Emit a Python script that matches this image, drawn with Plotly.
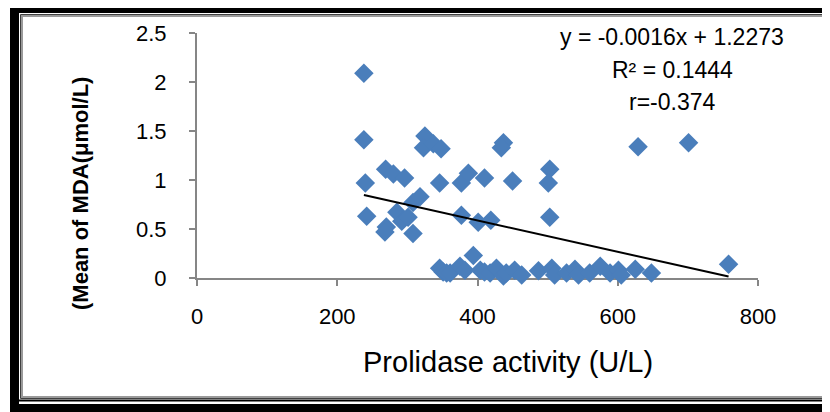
import plotly.graph_objects as go

# Data
prolidase = [238, 238, 240, 242, 269, 280, 296, 325, 323, 337, 348, 346, 377, 387, 410,
             437, 434, 450, 503, 501, 629, 701,
             270, 268, 285, 292, 301, 308, 318, 308, 377, 401, 419, 503,
             346, 351, 356, 361, 375, 382, 394, 404, 410, 418, 427, 437, 441, 453, 463,
             487, 506, 510, 527, 539, 544, 560, 575, 589, 601, 605, 625, 648, 758]
mda = [2.09, 1.41, 0.97, 0.63, 1.11, 1.06, 1.02, 1.45, 1.33, 1.37, 1.32, 0.97, 0.97, 1.07, 1.02,
       1.38, 1.33, 0.99, 1.11, 0.97, 1.34, 1.38,
       0.52, 0.47, 0.67, 0.58, 0.62, 0.77, 0.83, 0.455, 0.64, 0.57, 0.59, 0.62,
       0.10, 0.06, 0.05, 0.05, 0.12, 0.08, 0.23, 0.08, 0.06, 0.05, 0.10, 0.02, 0.05, 0.08, 0.03,
       0.075, 0.10, 0.03, 0.05, 0.09, 0.03, 0.05, 0.12, 0.05, 0.08, 0.03, 0.09, 0.05, 0.14]

slope = -0.0016
intercept = 1.2273
equation_lines = ["y = -0.0016x + 1.2273", "R² = 0.1444", "r=-0.374"]
x_ticks = [0, 200, 400, 600, 800]
y_ticks = [0, 0.5, 1, 1.5, 2, 2.5]
y_tick_text = ["0", "0.5", "1", "1.5", "2", "2.5"]

OFF = 8  # page body margin: screen pixel = figure pixel + 8
W, H = 830 - OFF, 412 - OFF
L, R, T, B = 197 - OFF, 758 - OFF, 33 - OFF, 278 - OFF  # plot area in figure pixels

def px(x):
    return (x - OFF - L) / (R - L)

def py(y):
    return (B - (y - OFF)) / (B - T)

FONT = "Liberation Sans, Arial, sans-serif"

fig = go.Figure()
fig.add_trace(go.Scatter(
    x=prolidase, y=mda, mode="markers",
    marker=dict(symbol="diamond", size=15, color="#4A7EBB", line=dict(width=0)),
    cliponaxis=False, showlegend=False,
))
x0, x1 = min(prolidase), max(prolidase)
fig.add_trace(go.Scatter(
    x=[x0, x1], y=[slope * x0 + intercept, slope * x1 + intercept],
    mode="lines", line=dict(color="black", width=2), showlegend=False, cliponaxis=False,
))

axis_common = dict(showgrid=False, zeroline=False, showline=True, linecolor="#868686",
                   linewidth=2, ticks="outside", ticklen=6, tickcolor="#868686", tickwidth=2,
                   layer="below traces", tickfont=dict(family=FONT, size=22, color="black"))
fig.update_xaxes(range=[0, 800], tickvals=x_ticks, ticklabelstandoff=12, **axis_common)
fig.update_yaxes(range=[0, 2.5], tickvals=y_ticks, ticktext=y_tick_text, ticklabelstandoff=18,
                 **axis_common)

shapes = []
def rect(x0p, y0p, x1p, y1p, fill=None, line=None, lw=0):
    d = dict(type="rect", xref="paper", yref="paper",
             x0=px(x0p), x1=px(x1p), y0=py(y0p), y1=py(y1p), layer="above")
    d["fillcolor"] = fill if fill else "rgba(0,0,0,0)"
    d["line"] = dict(color=line or "rgba(0,0,0,0)", width=lw)
    return d

shapes.append(rect(10, 4, 19, 412, fill="black"))
shapes.append(rect(10, 4, 830, 13, fill="black"))
shapes.append(rect(10, 404, 830, 412, fill="black"))
shapes.append(rect(19, 399.5, 830, 401.5, fill="black"))
shapes.append(rect(20.5, 14.5, 829, 398.5, line="#404040", lw=1))
shapes.append(rect(22, 16, 828, 397, line="#9a9a9a", lw=2))

annotations = [
    dict(text="Prolidase activity (U/L)", x=px(508), y=py(362), xref="paper", yref="paper",
         showarrow=False, font=dict(family=FONT, size=29, color="black"), xanchor="center", yanchor="middle"),
    dict(text="<b>(Mean of MDA(μmol/L)</b>", x=px(80), y=py(194), xref="paper", yref="paper",
         showarrow=False, textangle=-90, font=dict(family=FONT, size=22, color="black"),
         xanchor="center", yanchor="middle"),
]
eq_y = [37, 70, 102]
for t, yy in zip(equation_lines, eq_y):
    annotations.append(dict(text=t, x=px(672), y=py(yy), xref="paper", yref="paper", showarrow=False,
                            font=dict(family=FONT, size=23, color="black"), xanchor="center", yanchor="middle"))

fig.update_layout(width=W, height=H, margin=dict(l=L, r=W - R, t=T, b=H - B),
                  paper_bgcolor="white", plot_bgcolor="white",
                  shapes=shapes, annotations=annotations)
fig.write_html("out.html")
